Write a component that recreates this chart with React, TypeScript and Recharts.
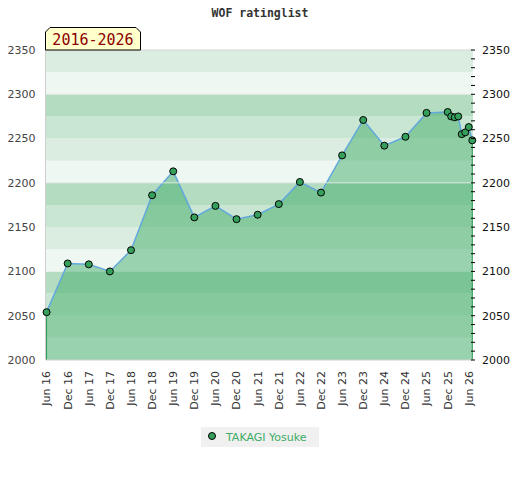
import React from "react";
import {
  ComposedChart,
  Area,
  Line,
  XAxis,
  YAxis,
  ReferenceArea,
  ReferenceLine,
} from "recharts";

// months counted from Jun 2016
const months = [0, 6, 12, 18, 24, 30, 36, 42, 48, 54, 60, 66, 72, 78, 84, 90, 96, 102, 108, 114, 115, 116, 117, 118, 119, 120, 121];
const ratings = [2054, 2109, 2108, 2100, 2124, 2186, 2213, 2161, 2174, 2159, 2164, 2176, 2201, 2189, 2231, 2271, 2242, 2252, 2279, 2280, 2275, 2274, 2275, 2255, 2257, 2263, 2248];

const tickMonths = [0, 6, 12, 18, 24, 30, 36, 42, 48, 54, 60, 66, 72, 78, 84, 90, 96, 102, 108, 114, 120];
const tickLabels = [
  "Jun 16", "Dec 16", "Jun 17", "Dec 17", "Jun 18", "Dec 18", "Jun 19",
  "Dec 19", "Jun 20", "Dec 20", "Jun 21", "Dec 21", "Jun 22", "Dec 22",
  "Jun 23", "Dec 23", "Jun 24", "Dec 24", "Jun 25", "Dec 25", "Jun 26",
];

const leftTicks = [2000, 2050, 2100, 2150, 2200, 2250, 2300, 2350];
const rightTicks = [
  2000, 2010, 2020, 2030, 2040, 2050, 2060, 2070, 2080, 2090, 2100, 2110,
  2120, 2130, 2140, 2150, 2160, 2170, 2180, 2190, 2200, 2210, 2220, 2230,
  2240, 2250, 2260, 2270, 2280, 2290, 2300, 2310, 2320, 2330, 2340, 2350,
];

// background bands, 25 points each, colour repeats every 100
const bandStarts = [2000, 2025, 2050, 2075, 2100, 2125, 2150, 2175, 2200, 2225, 2250, 2275, 2300, 2325];
const bandColors = ["#eef7f1", "#dbede1", "#c8e6d2", "#b4dcc1"];

const playerName = "TAKAGI Yosuke";
const chartTitle = "WOF ratinglist";
const periodLabel = "2016-2026";

const data = months.map((m, i) => ({ m, rating: ratings[i] }));

const GREEN = "rgb(60,170,100)";
const LINE = "#62a8dc";

const XTick = (props: any) => {
  const { x, y, payload } = props;
  const idx = tickMonths.indexOf(payload.value);
  return (
    <text
      transform={`translate(${x},${y}) rotate(-90)`}
      textAnchor="end"
      dy="0.35em"
      fontSize={11}
      fill="#333"
      fontFamily="DejaVu Sans"
    >
      {idx >= 0 ? tickLabels[idx] : ""}
    </text>
  );
};

const RightTick = (props: any) => {
  const { x, y, payload } = props;
  const major = payload.value % 50 === 0;
  return (
    <g>
      <line x1={x - 11} x2={x - 7} y1={y} y2={y} stroke="#000" strokeWidth={1} />
      {major && (
        <text x={x} y={y} dy="0.35em" fontSize={11} fill="#111" fontFamily="DejaVu Sans">
          {payload.value}
        </text>
      )}
    </g>
  );
};

const Dot = (props: any) => {
  const { cx, cy } = props;
  if (cx == null || cy == null) return null;
  return <circle cx={cx} cy={cy} r={3.5} fill="#35a05c" stroke="#000" strokeWidth={1} />;
};

export default function App() {
  const last = data.length - 1;
  return (
    <div style={{ position: "relative", width: 520, height: 480, margin: "-8px 0 0 -8px", fontFamily: "DejaVu Sans" }}>
      <ComposedChart
        width={520}
        height={480}
        data={data}
        margin={{ top: 50, right: 0, bottom: 0, left: 0 }}
      >
        {bandStarts.map((b, i) => (
          <ReferenceArea
            key={b}
            yAxisId="left"
            y1={b}
            y2={b + 25}
            fill={bandColors[i % 4]}
            fillOpacity={1}
            stroke="none"
            ifOverflow="visible"
          />
        ))}
        <ReferenceLine yAxisId="left" y={2200} stroke="#dde8e0" />
        <ReferenceLine yAxisId="left" y={2300} stroke="#dde8e0" />
        <ReferenceLine yAxisId="left" y={2350} stroke="#d4d4d4" />
        <XAxis
          dataKey="m"
          type="number"
          domain={[-0.3, 121.2]}
          ticks={tickMonths}
          interval={0}
          height={120}
          tickLine={false}
          tickSize={0}
          tickMargin={11}
          axisLine={{ stroke: "#cfcfcf" }}
          tick={<XTick />}
        />
        <YAxis
          yAxisId="left"
          orientation="left"
          width={45.5}
          domain={[2000, 2350]}
          ticks={leftTicks}
          interval={0}
          tickLine={false}
          tickMargin={4}
          axisLine={{ stroke: "#cfcfcf" }}
          tick={{ fontSize: 11, fill: "#444", fontFamily: "DejaVu Sans" }}
        />
        <YAxis
          yAxisId="right"
          orientation="right"
          width={47}
          domain={[2000, 2350]}
          ticks={rightTicks}
          interval={0}
          tickLine={false}
          tickSize={0}
          tickMargin={9}
          axisLine={false}
          tick={<RightTick />}
        />
        <Area
          yAxisId="left"
          type="linear"
          dataKey="rating"
          stroke={LINE}
          strokeWidth={1.5}
          fill={GREEN}
          fillOpacity={0.48}
          dot={<Dot />}
          activeDot={false}
          isAnimationActive={false}
        />
        <Line
          yAxisId="right"
          type="linear"
          dataKey="rating"
          stroke="none"
          dot={false}
          activeDot={false}
          legendType="none"
          isAnimationActive={false}
        />
        <ReferenceLine
          yAxisId="left"
          segment={[{ x: data[0].m, y: 2000 }, { x: data[0].m, y: data[0].rating }]}
          stroke="#2f9a55"
        />
        <ReferenceLine
          yAxisId="left"
          segment={[{ x: data[last].m, y: 2000 }, { x: data[last].m, y: data[last].rating }]}
          stroke="#2f9a55"
        />
      </ComposedChart>

      <svg
        width={520}
        height={60}
        style={{ position: "absolute", left: 0, top: 0, pointerEvents: "none" }}
      >
        <text
          x={260}
          y={17}
          textAnchor="middle"
          fontSize={11.5}
          fontWeight="bold"
          fontFamily="DejaVu Sans Mono"
          fill="#333"
        >
          {chartTitle}
        </text>
        <polygon
          points="45.5,50 45.5,32 50,27.5 136,27.5 140.5,32 140.5,50"
          fill="#ffffcc"
          stroke="#000"
          strokeWidth={1}
        />
        <text
          x={93}
          y={45}
          textAnchor="middle"
          fontSize={15}
          fontFamily="DejaVu Sans Mono"
          fill="#8b0000"
        >
          {periodLabel}
        </text>
      </svg>

      <div
        style={{
          position: "absolute",
          left: 201,
          top: 427,
          width: 118,
          height: 20,
          background: "#f0f0f0",
          display: "flex",
          alignItems: "center",
          fontSize: 11,
          color: "#3cac64",
          fontFamily: "DejaVu Sans",
        }}
      >
        <svg width={25} height={20}>
          <circle cx={11} cy={9} r={3.5} fill="#35a05c" stroke="#000" strokeWidth={1} />
        </svg>
        <span>{playerName}</span>
      </div>
    </div>
  );
}
